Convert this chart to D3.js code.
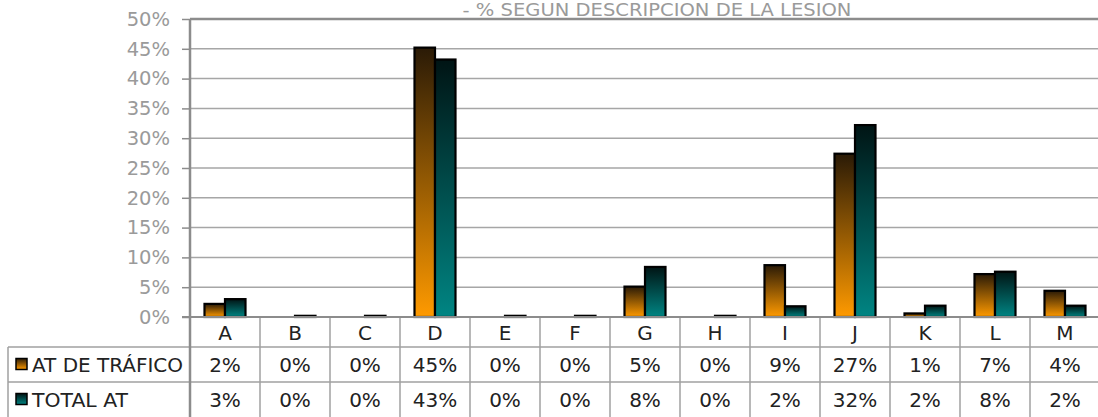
<!DOCTYPE html>
<html>
<head>
<meta charset="utf-8">
<script src="https://cdn.jsdelivr.net/npm/d3@7"></script>
<style>
  body { margin: 0; background: #fff; }
  text { font-family: "DejaVu Sans", Verdana, sans-serif; }
</style>
</head>
<body>
<script>
const categories = ["A", "B", "C", "D", "E", "F", "G", "H", "I", "J", "K", "L", "M"];
const seriesNames = ["AT DE TRÁFICO", "TOTAL AT"];
const trafico = [2.2, 0, 0, 45.2, 0, 0, 5.1, 0, 8.7, 27.4, 0.6, 7.2, 4.4];
const totalAt = [3.0, 0.2, 0.2, 43.2, 0.2, 0.2, 8.4, 0.2, 1.8, 32.2, 1.9, 7.6, 1.9];
const yTicks = [0, 5, 10, 15, 20, 25, 30, 35, 40, 45, 50];
const title = "- % SEGUN DESCRIPCION DE LA LESION";

const W = 1098, H = 417;
const plotL = 190, plotR = 1100, plotT = 19, plotB = 317;
const rowY = [317, 347, 382, 417];

const svg = d3.select("body").append("svg")
    .attr("width", W)
    .attr("height", H);

// gradients per series
const defs = svg.append("defs");
const grads = [
  { id: "gOrange", top: "#2a1a06", bot: "#ff9a00" },
  { id: "gTeal", top: "#001414", bot: "#008583" }
];
grads.forEach(g => {
  const lg = defs.append("linearGradient").attr("id", g.id)
      .attr("x1", 0).attr("y1", 0).attr("x2", 0).attr("y2", 1);
  lg.append("stop").attr("offset", "0%").attr("stop-color", g.top);
  lg.append("stop").attr("offset", "100%").attr("stop-color", g.bot);
});

const x = d3.scaleBand().domain(categories).range([plotL, plotR]);
const xs = d3.scaleBand().domain(seriesNames).range([0, 41]);
const y = d3.scaleLinear().domain([0, 50]).range([plotB, plotT]);

// gridlines
svg.append("g").selectAll("line").data(yTicks.filter(t => t > 0 && t < 50)).join("line")
    .attr("x1", plotL).attr("x2", plotR)
    .attr("y1", d => y(d)).attr("y2", d => y(d))
    .attr("stroke", "#a6a6a6").attr("stroke-width", 1.5);
// top border
svg.append("line").attr("x1", plotL).attr("x2", plotR)
    .attr("y1", y(50)).attr("y2", y(50))
    .attr("stroke", "#8c8c8c").attr("stroke-width", 2.5);

// y axis
const yAxis = svg.append("g").attr("transform", `translate(${plotL},0)`)
    .call(d3.axisLeft(y).tickValues(yTicks).tickFormat(d => d + "%").tickSize(8).tickPadding(12));
yAxis.select(".domain").remove();
yAxis.selectAll(".tick line").attr("stroke", "#8c8c8c").attr("stroke-width", 1.5);
yAxis.selectAll(".tick text").attr("fill", "#9a9a9a").style("font-size", "19.5px")
    .style("font-family", "DejaVu Sans, sans-serif");

// bars
const series = [trafico, totalAt];
series.forEach((vals, si) => {
  svg.append("g").selectAll("rect").data(vals.map((v, i) => ({ c: categories[i], v })).filter(d => d.v > 0))
    .join("rect")
    .attr("x", d => x(d.c) + (x.bandwidth() - 41) / 2 + xs(seriesNames[si]))
    .attr("y", d => y(d.v))
    .attr("width", xs.bandwidth())
    .attr("height", d => y(0) - y(d.v))
    .attr("fill", `url(#${grads[si].id})`)
    .attr("stroke", "#000").attr("stroke-width", 2.2);
});

// table grid
const tableColor = "#a0a0a0";
const tbl = svg.append("g");
// category boundaries
tbl.selectAll(".vl").data(categories.slice(1)).join("line")
    .attr("x1", d => x(d)).attr("x2", d => x(d))
    .attr("y1", rowY[0]).attr("y2", H)
    .attr("stroke", tableColor).attr("stroke-width", 1.5);
// row lines
[rowY[1], rowY[2]].forEach(ry => {
  tbl.append("line").attr("x1", 8).attr("x2", plotR).attr("y1", ry).attr("y2", ry)
      .attr("stroke", tableColor).attr("stroke-width", 1.5);
});
tbl.append("line").attr("x1", 8).attr("x2", 8).attr("y1", rowY[1]).attr("y2", H)
    .attr("stroke", tableColor).attr("stroke-width", 1.5);
// x axis line (0%)
svg.append("line").attr("x1", plotL - 8).attr("x2", plotR).attr("y1", plotB).attr("y2", plotB)
    .attr("stroke", "#8c8c8c").attr("stroke-width", 2);
// left axis
svg.append("line").attr("x1", plotL).attr("x2", plotL).attr("y1", plotT).attr("y2", H)
    .attr("stroke", "#8c8c8c").attr("stroke-width", 2.5);

// category labels
tbl.selectAll(".cl").data(categories).join("text")
    .attr("x", d => x(d) + x.bandwidth() / 2)
    .attr("y", (rowY[0] + rowY[1]) / 2 + 7.5)
    .attr("text-anchor", "middle")
    .attr("fill", "#222").style("font-size", "20px")
    .text(d => d);

// value rows
series.forEach((vals, si) => {
  const cy = (rowY[si + 1] + rowY[si + 2]) / 2 + 7.5;
  tbl.append("g").selectAll("text").data(vals).join("text")
      .attr("x", (d, i) => x(categories[i]) + x.bandwidth() / 2)
      .attr("y", cy)
      .attr("text-anchor", "middle")
      .attr("fill", "#222").style("font-size", "20px")
      .text(d => Math.round(d) + "%");
  // legend key
  const ky = (rowY[si + 1] + rowY[si + 2]) / 2;
  tbl.append("rect").attr("x", 16).attr("y", ky - 6).attr("width", 11).attr("height", 11)
      .attr("fill", `url(#${grads[si].id})`).attr("stroke", "#000").attr("stroke-width", 1.5);
  tbl.append("text").attr("x", 32).attr("y", cy)
      .attr("fill", "#222").style("font-size", "20px")
      .attr("textLength", si === 0 ? 151 : 96)
      .attr("lengthAdjust", "spacingAndGlyphs")
      .text(seriesNames[si]);
});

// title (sits just under the top edge, as in the original)
svg.append("text")
    .attr("x", 657).attr("y", 16)
    .attr("text-anchor", "middle")
    .attr("fill", "#9a9a9a").style("font-size", "17px")
    .attr("textLength", 389)
    .attr("lengthAdjust", "spacingAndGlyphs")
    .text(title);
</script>
</body>
</html>
